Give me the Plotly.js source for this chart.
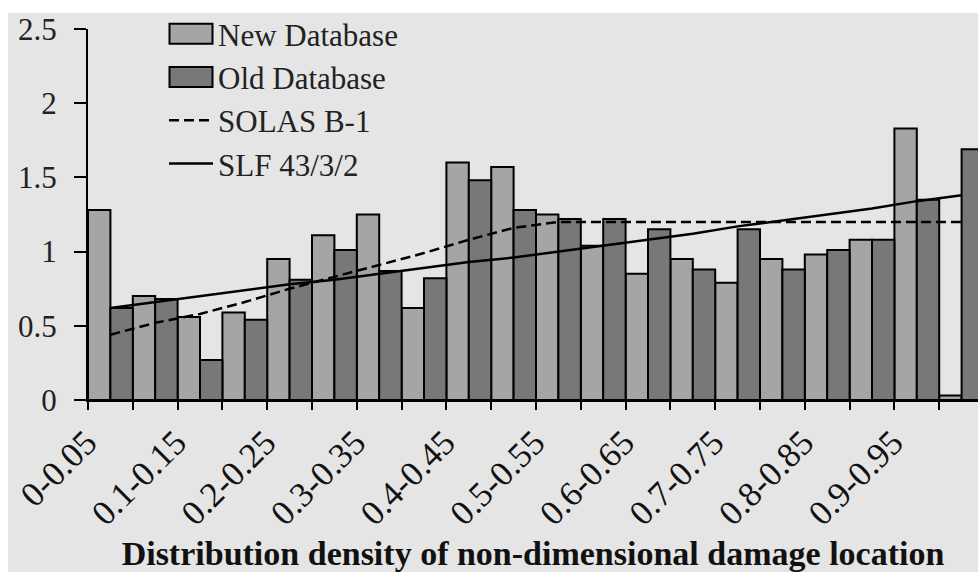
<!DOCTYPE html>
<html>
<head>
<meta charset="utf-8">
<script src="https://cdn.plot.ly/plotly-3.0.1.min.js"></script>
<style>html,body{margin:0;padding:0;background:#fff;}#chart{width:978px;height:572px;}</style>
</head>
<body>
<div id="chart"></div>
<script>
const categories = ["0-0.05","0.05-0.1","0.1-0.15","0.15-0.2","0.2-0.25","0.25-0.3","0.3-0.35","0.35-0.4","0.4-0.45","0.45-0.5",
                    "0.5-0.55","0.55-0.6","0.6-0.65","0.65-0.7","0.7-0.75","0.75-0.8","0.8-0.85","0.85-0.9","0.9-0.95","0.95-1"];
const newDatabase = [1.28,0.70,0.56,0.59,0.95,1.11,1.25,0.62,1.60,1.57,1.25,1.04,0.85,0.95,0.79,0.95,0.98,1.08,1.83,0.03];
const oldDatabase = [0.62,0.68,0.27,0.54,0.81,1.01,0.87,0.82,1.48,1.28,1.22,1.22,1.15,0.88,1.15,0.88,1.01,1.08,1.35,1.69];
const solasB1 = [0.44,0.52,0.58,0.66,0.75,0.83,0.91,0.99,1.08,1.16,1.20,1.20,1.20,1.20,1.20,1.20,1.20,1.20,1.20,1.20];
const slf43 = [0.62,0.66,0.70,0.74,0.78,0.81,0.85,0.89,0.93,0.96,1.00,1.04,1.08,1.12,1.17,1.21,1.25,1.29,1.34,1.38];
const tickText = ["0-0.05","","0.1-0.15","","0.2-0.25","","0.3-0.35","","0.4-0.45","",
                  "0.5-0.55","","0.6-0.65","","0.7-0.75","","0.8-0.85","","0.9-0.95",""];

const serif = "Liberation Serif, Times New Roman, serif";
const traces = [
  {type:"bar", name:"New Database", x:categories, y:newDatabase,
   marker:{color:"#a5a5a5", line:{color:"#000", width:2}}},
  {type:"bar", name:"Old Database", x:categories, y:oldDatabase,
   marker:{color:"#787878", line:{color:"#000", width:2}}},
  {type:"scatter", mode:"lines", name:"SOLAS B-1", x:categories, y:solasB1,
   line:{color:"#000", width:2.5, dash:"10px,5px"}},
  {type:"scatter", mode:"lines", name:"SLF 43/3/2", x:categories, y:slf43,
   line:{color:"#000", width:2.5}}
];

const W = 978, H = 572, L = 88, T = 29, B = 172;
const px2x = p => (p - L) / (W - L);
const px2y = p => (H - B - p) / (H - B - T);

const layout = {
  width: W, height: H,
  margin: {l: L, r: 0, t: T, b: B, pad: 0},
  paper_bgcolor: "#ffffff",
  plot_bgcolor: "rgba(0,0,0,0)",
  barmode: "group", bargap: 0, bargroupgap: 0,
  showlegend: true,
  legend: {x: px2x(164), y: px2y(7), xanchor: "left", yanchor: "top",
           bgcolor: "rgba(0,0,0,0)", font: {family: serif, size: 31, color: "#222"},
           tracegroupgap: 0, itemwidth: 44},
  xaxis: {type: "category", range: [-0.5, 19.366], autorange: false,
          tickmode: "array", tickvals: categories, ticktext: tickText,
          tickson: "boundaries", ticks: "outside", ticklen: 8, tickwidth: 2, tickcolor: "#000",
          tickangle: -45, tickfont: {family: serif, size: 35, color: "#111"},
          ticklabelstandoff: 6, ticklabelshift: -24,
          showline: true, linecolor: "#000", linewidth: 2, showgrid: false, zeroline: false,
          automargin: false,
          title: {text: "<b>Distribution density of non-dimensional damage location</b>",
                  font: {family: serif, size: 34, color: "#111"}, standoff: 28}},
  yaxis: {range: [0, 2.5], autorange: false, tickmode: "array",
          tickvals: [0, 0.5, 1, 1.5, 2, 2.5], ticktext: ["0","0.5","1","1.5","2","2.5"],
          ticks: "outside", ticklen: 12, tickwidth: 2, tickcolor: "#000",
          tickfont: {family: serif, size: 31, color: "#222"}, ticklabelstandoff: 11,
          showline: true, linecolor: "#000", linewidth: 2, showgrid: false, zeroline: false,
          automargin: false},
  shapes: [{type: "rect", xref: "paper", yref: "paper", layer: "below",
            x0: px2x(8), x1: px2x(980), y0: px2y(574), y1: px2y(13),
            fillcolor: "#e5e5e5", line: {width: 0}}]
};

Plotly.newPlot("chart", traces, layout, {staticPlot: true, displayModeBar: false}).then(gd => {
  // enlarge the legend swatches of the two bar series to match the boxed legend keys
  const items = gd.querySelectorAll(".legend .traces");
  items.forEach((g, i) => {
    if (i < 2) {
      g.querySelectorAll(".legendpoints path").forEach(p => p.setAttribute("d", "M21.5,10H-21.5V-10H21.5Z"));
    }
  });
});
</script>
</body>
</html>
